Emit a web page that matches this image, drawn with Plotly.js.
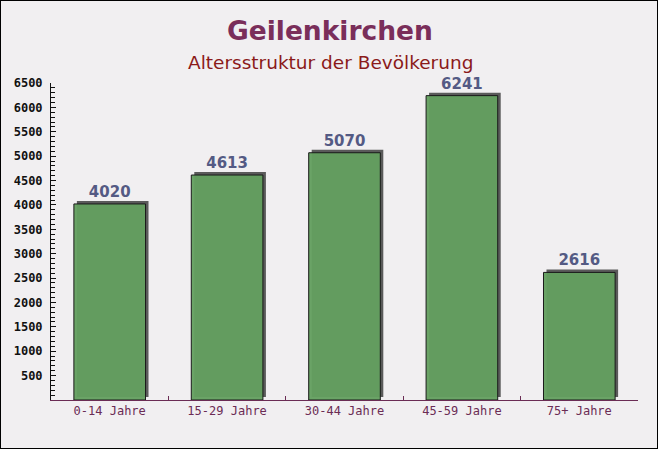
<!DOCTYPE html>
<html>
<head>
<meta charset="utf-8">
<script src="https://cdn.plot.ly/plotly-3.0.1.min.js"></script>
<style>
html,body{margin:0;padding:0;background:#fff;}
#chart{width:656px;height:447px;border:1px solid #000;}
</style>
</head>
<body>
<div id="chart"></div>
<script>
var categories = ["0-14 Jahre", "15-29 Jahre", "30-44 Jahre", "45-59 Jahre", "75+ Jahre"];
var values = [4020, 4613, 5070, 6241, 2616];
var yTicks = [500, 1000, 1500, 2000, 2500, 3000, 3500, 4000, 4500, 5000, 5500, 6000, 6500];
var titleText = "Geilenkirchen";
var subtitleText = "Altersstruktur der Bevölkerung";

var W = 656, H = 447;
var ml = 50, mr = 16, mt = 79, mb = 48;
var shift = 3;
var pw = W - ml - mr, ph = H - mt - mb;
var dx = shift / pw, dy = shift / ph;

var shadow = {
  type: "bar", x: categories, y: values,
  xaxis: "x", yaxis: "y",
  marker: {color: "#5a5a5a", line: {width: 0}},
  hoverinfo: "skip", showlegend: false
};
var bars = {
  type: "bar", x: categories, y: values,
  xaxis: "x2", yaxis: "y2",
  marker: {color: "rgba(100,159,96,0.96)", line: {color: "#1a1a1a", width: 1}},
  text: values.map(String),
  textposition: "outside",
  textfont: {family: "DejaVu Sans", size: 15, color: "#545a84", weight: "bold"},
  cliponaxis: false,
  showlegend: false
};

var layout = {
  width: W, height: H,
  margin: {l: ml, r: mr, t: mt, b: mb},
  paper_bgcolor: "#f1eff1",
  plot_bgcolor: "rgba(0,0,0,0)",
  bargap: 0.39,
  annotations: [
    {text: "<b>" + titleText + "</b>", xref: "paper", yref: "paper", x: 0.5, y: 1,
     xanchor: "center", yanchor: "middle", xshift: -16, yshift: 50, showarrow: false,
     font: {family: "DejaVu Sans", size: 26.5, color: "#7a2e5a"}},
    {text: subtitleText, xref: "paper", yref: "paper", x: 0.5, y: 1,
     xanchor: "center", yanchor: "middle", xshift: -16, yshift: 18, showarrow: false,
     font: {family: "DejaVu Sans", size: 18.5, color: "#8b1a1a"}}
  ],
  xaxis: {domain: [dx, 1], range: [-0.5, 4.5], visible: false, fixedrange: true},
  yaxis: {domain: [dy, 1], range: [0, 6500], visible: false, fixedrange: true},
  xaxis2: {
    domain: [0, 1 - dx], anchor: "y2",
    type: "category", range: [-0.5, 4.5],
    showline: true, linecolor: "#6b2c55", linewidth: 1,
    ticks: "inside", tickson: "boundaries", ticklen: 4, tickcolor: "#6b2c55",
    tickfont: {family: "DejaVu Sans Mono", size: 12, color: "#6b2c55"},
    showgrid: false, zeroline: false, fixedrange: true
  },
  yaxis2: {
    domain: [0, 1 - dy], anchor: "x2",
    range: [0, 6500],
    tickvals: yTicks, ticktext: yTicks.map(String),
    showline: true, linecolor: "#111", linewidth: 1,
    ticks: "inside", ticklen: 5, tickcolor: "#111",
    minor: {dtick: 100, ticks: "inside", ticklen: 4, tickcolor: "#111"},
    tickfont: {family: "DejaVu Sans Mono", size: 12, color: "#111", weight: "bold"},
    ticklabelstandoff: 5,
    showgrid: false, zeroline: false, fixedrange: true
  }
};

Plotly.newPlot("chart", [shadow, bars], layout, {displayModeBar: false, staticPlot: true});
</script>
</body>
</html>
